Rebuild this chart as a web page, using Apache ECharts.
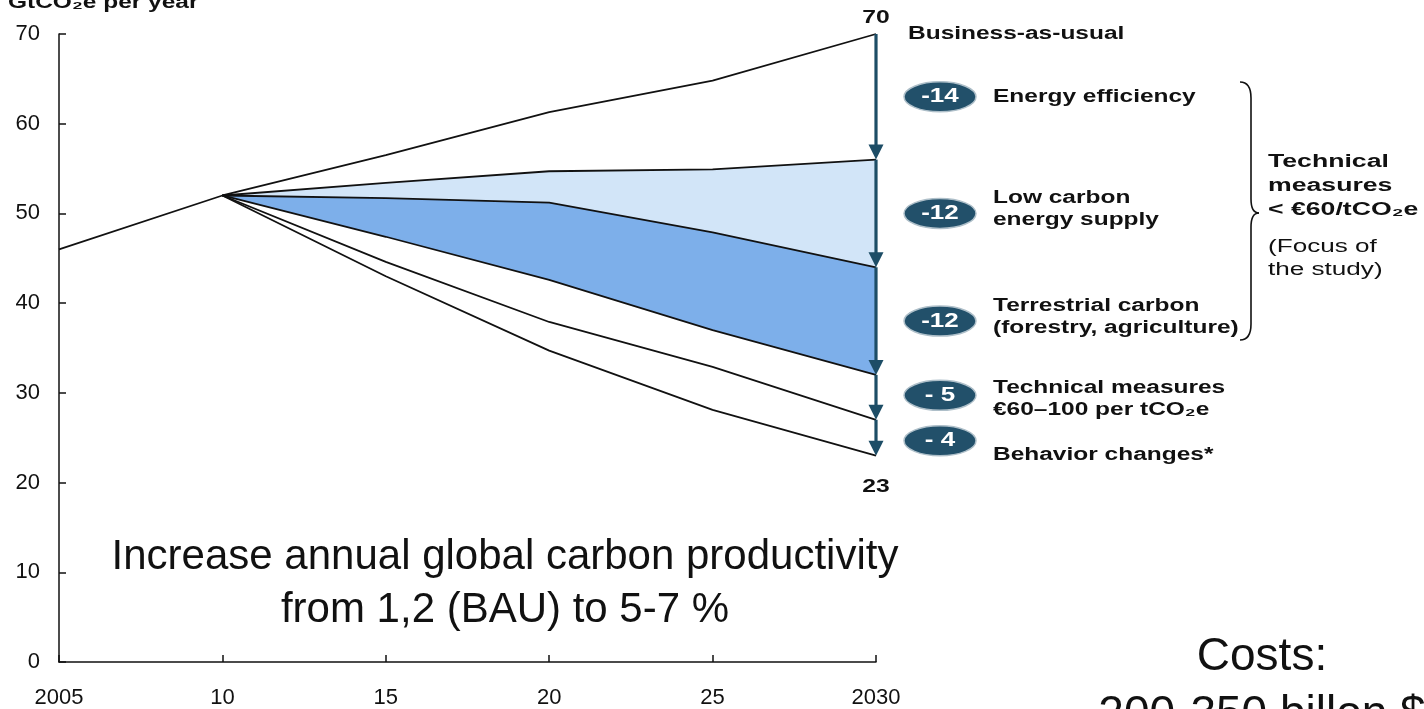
<!DOCTYPE html>
<html>
<head>
<meta charset="utf-8">
<script src="https://cdn.jsdelivr.net/npm/echarts@6/dist/echarts.min.js"></script>
<style>
  html, body { margin: 0; padding: 0; background: #ffffff; }
  #chart { width: 1424px; height: 709px; }
</style>
</head>
<body>
<div id="chart"></div>
<script>
// Years on the horizontal axis, as they are labelled
const yearLabels = ['2005', '10', '15', '20', '25', '2030'];

// Global emissions, GtCO2e per year
const businessAsUsual   = [46, 52, 56.5, 61.3, 64.8, 70];
const afterEfficiency   = ['-', 52, 53.4, 54.7, 54.9, 56];
const afterLowCarbon    = ['-', 52, 51.7, 51.2, 47.9, 44];
const afterTerrestrial  = ['-', 52, 47.4, 42.6, 37.0, 32];
const afterTechnical    = ['-', 52, 44.6, 37.9, 32.9, 27];
const afterBehavior     = ['-', 52, 43.0, 34.7, 28.1, 23];

// Abatement levers, from the top of the 2030 bar downwards
const leverBadges = ['-14', '-12', '-12', '- 5', '- 4'];
const leverLabels = [
  'Energy efficiency',
  'Low carbon\nenergy supply',
  'Terrestrial carbon\n(forestry, agriculture)',
  'Technical measures\n€60–100 per tCO₂e',
  'Behavior changes*'
];

const pathways = [businessAsUsual, afterEfficiency, afterLowCarbon, afterTerrestrial, afterTechnical, afterBehavior];
const levels2030 = pathways.map(p => p[p.length - 1]);
const lastYear = yearLabels[yearLabels.length - 1];

const diff = (a, b) => a.map((v, i) => (v === '-' ? '-' : +(v - b[i]).toFixed(2)));

const FONT = '"Liberation Sans", Arial, Helvetica, sans-serif';
const ARROW = '#1d4d66';
const BADGE = '#22506a';
const DARK_BAND = '#7dafea';
const LIGHT_BAND = '#d2e5f8';
const STRETCH = 1.36;

// per-lever nudges of the badge and its caption around the arrow segment midpoint
const badgeShift = [0, 0, 0, -2, 3];
const labelShift = [0, -4, -4, 2, 17];

function lineSeries(name, data) {
  return {
    name, type: 'line', data, symbol: 'none', z: 3, silent: true,
    lineStyle: { color: '#111111', width: 1.8 }
  };
}

function bandSeries(name, data, color) {
  const s = {
    name, type: 'line', stack: 'bands', data, symbol: 'none', z: 1, silent: true,
    lineStyle: { width: 0, opacity: 0 }
  };
  if (color) s.areaStyle = { color, opacity: 1 };
  return s;
}

function labelText(x, y, text) {
  return {
    type: 'text', x, y, scaleX: STRETCH,
    style: {
      text, fill: '#111111', font: 'bold 18px ' + FONT,
      align: 'left', verticalAlign: 'middle', lineHeight: 22
    }
  };
}

function renderLever(params, api) {
  const i = params.dataIndex;
  const top = api.coord([api.value(0), api.value(1)]);
  const bot = api.coord([api.value(0), api.value(2)]);
  const x = top[0];
  const ah = 15, aw = 7.5;
  const midY = (top[1] + bot[1]) / 2;
  const children = [
    { type: 'line', shape: { x1: x, y1: top[1], x2: x, y2: bot[1] - ah + 2 },
      style: { stroke: ARROW, lineWidth: 3.2 } },
    { type: 'polygon', shape: { points: [[x - aw, bot[1] - ah], [x + aw, bot[1] - ah], [x, bot[1]]] },
      style: { fill: ARROW } },
    { type: 'ellipse', shape: { cx: x + 64, cy: midY + badgeShift[i], rx: 36, ry: 15 },
      style: { fill: BADGE, stroke: '#aebfc9', lineWidth: 1.5 } },
    { type: 'text', x: x + 64, y: midY + badgeShift[i], scaleX: 1.3,
      style: { text: leverBadges[i], fill: '#ffffff', font: 'bold 20px ' + FONT,
               align: 'center', verticalAlign: 'middle' } },
    labelText(x + 117, midY + labelShift[i], leverLabels[i])
  ];
  if (i === 0) {
    children.push({ type: 'text', x, y: top[1] - 16, scaleX: 1.3,
      style: { text: String(api.value(1)), fill: '#111111', font: 'bold 19px ' + FONT,
               align: 'center', verticalAlign: 'middle' } });
    children.push(labelText(x + 32, top[1], 'Business-as-usual'));
  }
  if (i === leverBadges.length - 1) {
    children.push({ type: 'text', x, y: bot[1] + 31, scaleX: 1.3,
      style: { text: String(api.value(2)), fill: '#111111', font: 'bold 19px ' + FONT,
               align: 'center', verticalAlign: 'middle' } });
  }
  return { type: 'group', children };
}

// right-hand curly brace grouping the three technical levers
function braceParts(x, yTop, yBot, yTip, depth, tip) {
  const s = { stroke: '#111111', lineWidth: 1.6, fill: null };
  const xm = x + depth;
  return [
    { type: 'bezierCurve', shape: { x1: x, y1: yTop, cpx1: xm, cpy1: yTop, x2: xm, y2: yTop + 16 }, style: s },
    { type: 'line', shape: { x1: xm, y1: yTop + 16, x2: xm, y2: yTip - 14 }, style: s },
    { type: 'bezierCurve', shape: { x1: xm, y1: yTip - 14, cpx1: xm, cpy1: yTip, x2: xm + tip, y2: yTip }, style: s },
    { type: 'bezierCurve', shape: { x1: xm + tip, y1: yTip, cpx1: xm, cpy1: yTip, x2: xm, y2: yTip + 14 }, style: s },
    { type: 'line', shape: { x1: xm, y1: yTip + 14, x2: xm, y2: yBot - 16 }, style: s },
    { type: 'bezierCurve', shape: { x1: xm, y1: yBot - 16, cpx1: xm, cpy1: yBot, x2: x, y2: yBot }, style: s }
  ];
}

const chart = echarts.init(document.getElementById('chart'), null, { renderer: 'canvas' });

chart.setOption({
  animation: false,
  backgroundColor: '#ffffff',
  grid: { left: 59, right: 548, top: 34, bottom: 46, containLabel: false },
  xAxis: {
    type: 'category',
    data: yearLabels,
    boundaryGap: false,
    axisLine: { lineStyle: { color: '#111111', width: 1.5 } },
    axisTick: { inside: true, length: 7, lineStyle: { color: '#111111', width: 1.5 } },
    axisLabel: { color: '#111111', fontFamily: FONT, fontSize: 22, margin: 25 },
    splitLine: { show: false }
  },
  yAxis: {
    type: 'value',
    min: 0, max: 70, interval: 10,
    axisLine: { show: true, lineStyle: { color: '#111111', width: 1.5 } },
    axisTick: { show: true, inside: true, length: 7, lineStyle: { color: '#111111', width: 1.5 } },
    axisLabel: { color: '#111111', fontFamily: FONT, fontSize: 22, margin: 19 },
    splitLine: { show: false }
  },
  series: [
    bandSeries('base', afterTerrestrial, null),
    bandSeries('Terrestrial carbon', diff(afterLowCarbon, afterTerrestrial), DARK_BAND),
    bandSeries('Low carbon energy supply', diff(afterEfficiency, afterLowCarbon), LIGHT_BAND),
    lineSeries('Business-as-usual', businessAsUsual),
    lineSeries('After energy efficiency', afterEfficiency),
    lineSeries('After low carbon energy supply', afterLowCarbon),
    lineSeries('After terrestrial carbon', afterTerrestrial),
    lineSeries('After technical measures', afterTechnical),
    lineSeries('After behavior changes', afterBehavior),
    {
      name: 'Levers', type: 'custom', z: 5, clip: false, silent: true,
      encode: { x: 0, y: [1, 2] },
      data: leverBadges.map((b, i) => [lastYear, levels2030[i], levels2030[i + 1]]),
      renderItem: renderLever
    }
  ],
  graphic: [
    { type: 'text', x: 8, y: -6, scaleX: STRETCH,
      style: { text: 'GtCO₂e per year', fill: '#111111', font: 'bold 18px ' + FONT } },
    { type: 'group', children: braceParts(1240, 82, 340, 213, 11, 8) },
    { type: 'text', x: 1268, y: 186, scaleX: 1.48,
      style: { text: 'Technical\nmeasures\n< €60/tCO₂e', fill: '#111111', font: 'bold 18px ' + FONT,
               verticalAlign: 'middle', lineHeight: 24 } },
    { type: 'text', x: 1268, y: 259, scaleX: 1.45,
      style: { text: '(Focus of\nthe study)', fill: '#111111', font: '18px ' + FONT,
               verticalAlign: 'middle', lineHeight: 23 } },
    { type: 'text', x: 505, y: 584,
      style: { text: 'Increase annual global carbon productivity\nfrom 1,2 (BAU) to 5-7 %', fill: '#111111',
               font: '42px ' + FONT, align: 'center', verticalAlign: 'middle', lineHeight: 53 } },
    { type: 'text', x: 1262, y: 686,
      style: { text: 'Costs:\n200-350 billon $', fill: '#111111',
               font: '46px ' + FONT, align: 'center', verticalAlign: 'middle', lineHeight: 58 } }
  ]
});
</script>
</body>
</html>
